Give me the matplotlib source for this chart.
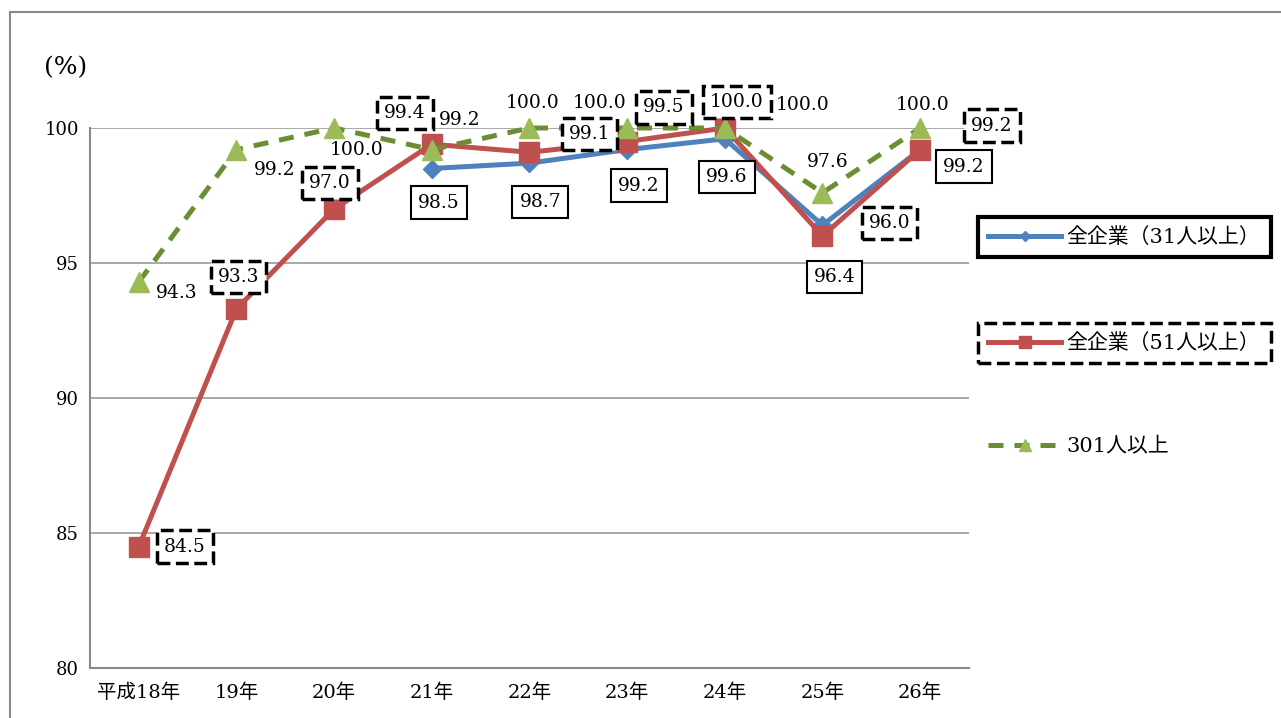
import matplotlib.pyplot as plt
from matplotlib.lines import Line2D

plt.rcParams['font.family'] = ['DejaVu Serif', 'Noto Sans CJK JP']

# データ
years = ['平成18年', '19年', '20年', '21年', '22年', '23年', '24年', '25年', '26年']
all31 = [None, None, None, 98.5, 98.7, 99.2, 99.6, 96.4, 99.2]
all51 = [84.5, 93.3, 97.0, 99.4, 99.1, 99.5, 100.0, 96.0, 99.2]
over301 = [94.3, 99.2, 100.0, 99.2, 100.0, 100.0, 100.0, 97.6, 100.0]
names = ['全企業（31人以上）', '全企業（51人以上）', '301人以上']

# ラベル位置 (pixel offset)
off31 = [None, None, None, (7, -34), (11, -39), (12, -36), (2, -38), (12, -52), (44, -17)]
off51 = [(46, 0), (2, 32), (-4, 26), (-27, 31), (60, 18), (37, 34), (12, 26), (67, 13), (72, 24)]
off301 = [(38, -11), (38, -20), (22, -22), (28, 30), (3, 25), (-28, 25), (78, 23), (5, 31), (2, 23)]

fig = plt.figure(figsize=(12.81, 7.18), dpi=100)
ax = fig.add_axes([90 / 1281, 1 - 668 / 718, 879 / 1281, 540 / 718])

x = list(range(len(years)))
x31 = [i for i, v in zip(x, all31) if v is not None]
y31 = [v for v in all31 if v is not None]

l1, = ax.plot(x31, y31, color='#4F81BD', lw=3.6, marker='D', ms=9,
              mfc='#4F81BD', mec='#4F81BD', zorder=3, clip_on=False)
l2, = ax.plot(x, all51, color='#C0504D', lw=3.6, marker='s', ms=14,
              mfc='#C0504D', mec='#C0504D', zorder=4, clip_on=False)
l3, = ax.plot(x, over301, color='#6B8E33', lw=3.6, ls=(0, (3, 2.2)), marker='^', ms=14,
              mfc='#9BBB59', mec='#9BBB59', zorder=5, clip_on=False)

fs = 13.5
for i, v in enumerate(all31):
    if v is None:
        continue
    ax.annotate(f'{v:.1f}', (i, v), xytext=off31[i], textcoords='offset pixels',
                ha='center', va='center', fontsize=fs, zorder=10,
                bbox=dict(boxstyle='square,pad=0.38', fc='white', ec='black', lw=1.5))
for i, v in enumerate(all51):
    ax.annotate(f'{v:.1f}', (i, v), xytext=off51[i], textcoords='offset pixels',
                ha='center', va='center', fontsize=fs, zorder=10,
                bbox=dict(boxstyle='square,pad=0.38', fc='white', ec='black', lw=2.5, ls='--'))
for i, v in enumerate(over301):
    ax.annotate(f'{v:.1f}', (i, v), xytext=off301[i], textcoords='offset pixels',
                ha='center', va='center', fontsize=fs, zorder=10)

ax.set_xlim(-0.5, len(years) - 0.5)
ax.set_ylim(80, 100)
ax.set_yticks([80, 85, 90, 95, 100])
ax.set_xticks(x)
ax.set_xticklabels(years, fontsize=14)
ax.tick_params(axis='y', labelsize=13, length=0, pad=8)
ax.tick_params(axis='x', length=0, pad=11)
ax.grid(axis='y', color='#999999', lw=1.2)
ax.set_axisbelow(True)
for s in ['top', 'right']:
    ax.spines[s].set_visible(False)
for s in ['left', 'bottom']:
    ax.spines[s].set_color('#888888')
    ax.spines[s].set_linewidth(1.5)

fig.text(44 / 1281, 1 - 68 / 718, '(%)', fontsize=18, va='center', ha='left')

# 凡例
leg_y = [237, 343, 447]
leg_style = [('-', 3.0), ('--', 2.5), (None, 0)]
for h, name, yy, (ls, lw) in zip([l1, l2, l3], names, leg_y, leg_style):
    lg = fig.legend([h], [name], loc='center left',
                    bbox_to_anchor=(978 / 1281, 1 - yy / 718), borderaxespad=0,
                    fontsize=15, handlelength=3.5, handletextpad=0.25, markerscale=0.6,
                    borderpad=0.5, fancybox=False, framealpha=1)
    fr = lg.get_frame()
    if ls is None:
        fr.set_visible(False)
    else:
        fr.set_edgecolor('black')
        fr.set_linewidth(lw)
        fr.set_linestyle(ls)

# 外枠
fig.add_artist(Line2D([10 / 1281, 10 / 1281], [0, 1 - 12 / 718], color='#888888', lw=1.5))
fig.add_artist(Line2D([10 / 1281, 1], [1 - 12 / 718, 1 - 12 / 718], color='#888888', lw=1.5))

fig.savefig('out.png', dpi=100)
